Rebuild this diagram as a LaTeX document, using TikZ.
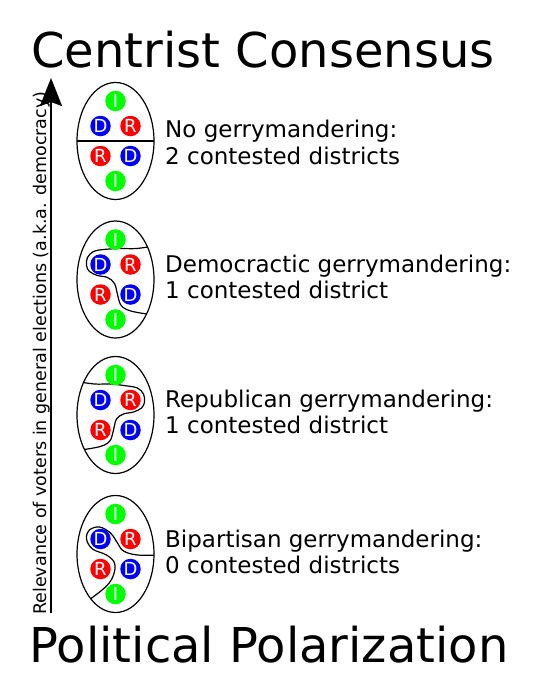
\documentclass[tikz,border=0pt]{standalone}
\usepackage{fontspec}
\setmainfont{DejaVu Sans}
\usetikzlibrary{arrows.meta}
\definecolor{vgreen}{HTML}{00FF00}
\definecolor{vblue}{HTML}{0000FF}
\definecolor{vred}{HTML}{FF0000}
\newcommand\placevoters[3]{%
  \node[ivoter] (#1i1) at (#2,#3-40) {I};
  \node[dvoter] (#1d1) at (#2-15,#3-15) {D};
  \node[rvoter] (#1r1) at (#2+15,#3-15) {R};
  \node[rvoter] (#1r2) at (#2-15,#3+15) {R};
  \node[dvoter] (#1d2) at (#2+15,#3+15) {D};
  \node[ivoter] (#1i2) at (#2,#3+40) {I};
}
\begin{document}
\begin{tikzpicture}[x=1pt,y=-1pt,
  voter/.style={circle, inner sep=0pt, minimum size=20.5pt, text=white, font=\fontsize{18}{18}\selectfont},
  ivoter/.style={voter, fill=vgreen},
  dvoter/.style={voter, fill=vblue},
  rvoter/.style={voter, fill=vred},
  stateline/.style={line width=1.2pt},
  district/.style={line width=1.2pt},
  title/.style={anchor=base, font=\fontsize{48}{56}\selectfont},
  label/.style={anchor=base west, font=\fontsize{23}{27}\selectfont, inner sep=0pt},
  axislabel/.style={rotate=90, anchor=base west, inner sep=0pt, font=\fontsize{17.5}{20}\selectfont},
]
\useasboundingbox (0,0) rectangle (539,697);

\node[title] (top) at (263,67) {Centrist Consensus};
\node[title] (bottom) at (269,662) {Political Polarization};

\coordinate (abot) at (51,613);
\coordinate (atop) at (51,78);
\draw[line width=2.6pt, -{Stealth[width=22pt,length=28pt,inset=4pt]}] (abot) -- (atop);
\node[axislabel] (axis) at (46,615) {Relevance of voters in general elections (a.k.a. democracy)};

% Row 1: no gerrymandering
\begin{scope}
  \clip (115.5,141) ellipse [x radius=38.5, y radius=58.5];
  \draw[district] (70,141) -- (160,141);
\end{scope}
\draw[stateline] (115.5,141) ellipse [x radius=38.5, y radius=58.5];
\placevoters{a}{115.5}{141}
\node[label] (la1) at (165,137) {No gerrymandering:};
\node[label] (la2) at (165,164) {2 contested districts};

% Row 2: democratic gerrymandering
\begin{scope}
  \clip (115.5,279.5) ellipse [x radius=38.5, y radius=58.5];
  \begin{scope}[shift={(115.5,279.5)}]
  \draw[district] plot[smooth, tension=0.6] coordinates {(42,-34) (21,-31) (5,-31) (-12,-30) (-22,-28) (-28,-22) (-29,-14) (-26,-8) (-18,-4) (-8,-2) (-1,4) (2,15) (5,25) (11,30) (22,33) (42,36)};
  \end{scope}
\end{scope}
\draw[stateline] (115.5,279.5) ellipse [x radius=38.5, y radius=58.5];
\placevoters{b}{115.5}{279.5}
\node[label] (lb1) at (165,272) {Democractic gerrymandering:};
\node[label] (lb2) at (165,298) {1 contested district};

% Row 3: republican gerrymandering
\begin{scope}
  \clip (115.5,415) ellipse [x radius=38.5, y radius=58.5];
  \begin{scope}[shift={(115.5,415)}]
  \draw[district] plot[smooth, tension=0.6] coordinates {(-42,-34) (-21,-31) (-5,-31) (12,-29) (22,-27) (28,-21) (29,-13) (26,-7) (18,-3) (8,-1) (1,4) (-2,15) (-5,25) (-11,30) (-22,33) (-42,36)};
  \end{scope}
\end{scope}
\draw[stateline] (115.5,415) ellipse [x radius=38.5, y radius=58.5];
\placevoters{c}{115.5}{415}
\node[label] (lc1) at (165,407) {Republican gerrymandering:};
\node[label] (lc2) at (165,433) {1 contested district};

% Row 4: bipartisan gerrymandering
\begin{scope}
  \clip (115.5,554) ellipse [x radius=38.5, y radius=58.5];
  \begin{scope}[shift={(115.5,554)}]
  \draw[district] plot[smooth, tension=0.6] coordinates {(45,1) (22,1) (8,-3) (2,-11) (-5,-21) (-16,-27) (-26,-24) (-29,-15) (-23,-5) (-9,1) (-1,9) (-2,21) (-10,33) (-32,50)};
  \end{scope}
\end{scope}
\draw[stateline] (115.5,554) ellipse [x radius=38.5, y radius=58.5];
\placevoters{d}{115.5}{554}
\node[label] (ld1) at (165,547) {Bipartisan gerrymandering:};
\node[label] (ld2) at (165,573) {0 contested districts};
\end{tikzpicture}
\end{document}
